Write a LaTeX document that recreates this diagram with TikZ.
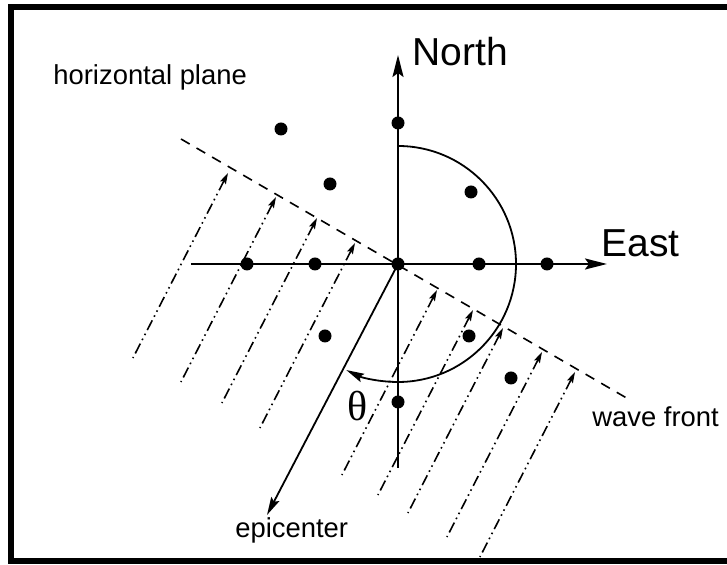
\documentclass[tikz,border=0pt]{standalone}
\usepackage{fontspec}
\setmainfont{Liberation Sans}
\newfontfamily\thetafont{Liberation Serif}
\usetikzlibrary{arrows.meta, positioning}

\begin{document}
\begin{tikzpicture}[
      x=0.5pt, y=0.5pt,
      font=\fontsize{13.7}{16}\selectfont,
      lbl/.style={inner sep=0pt, anchor=base west},
      big/.style={lbl, font=\fontsize{19.5}{22}\selectfont},
      dot/.style={circle, fill, inner sep=0pt, minimum size=6.5pt},
      axis/.style={-{Stealth[length=11pt, width=5.5pt, inset=2pt]}, line width=1.1pt},
      arr/.style={-{Stealth[length=9pt, width=4.5pt, inset=1.5pt]}, line width=0.9pt},
      front/.style={line width=0.8pt, dash pattern=on 5pt off 4pt},
      ray/.style={{Stealth[length=5.5pt, width=3.2pt, inset=1pt]}-, line width=0.8pt,
        dash pattern=on 5.5pt off 2pt on 0.8pt off 2pt on 0.8pt off 2pt},
    ]
    \useasboundingbox (-398,-301) rectangle (329,264);
    \draw[line width=3pt] (329,257) -| (-387,-297) -- (329,-297);
    \node[lbl] (plane) at (-345,179) {horizontal plane};
    \node[big] (north) at (14,198) {North};
    \node[big] (east) at (203,7) {East};
    \node[lbl] (front) at (194,-163) {wave front};
    \node[lbl] (epi) at (-163,-274) {epicenter};
    \node (theta) at (-40,-142) {\thetafont\fontsize{21}{24}\selectfont θ};
    \foreach \x/\y in {-170/91, -122/67, -81/46, -43/21, 39/-26, 75/-46, 105/-64, 144/-88, 177/-108}
      \draw[ray] (\x,\y) -- ++(242.8:208);
    \coordinate (wfA) at (-217,125);
    \coordinate (wfB) at (232,-136);
    \draw[front] (wfA) -- (wfB);
    \coordinate (s) at (0,-204);
    \coordinate (n) at (0,209);
    \coordinate (w) at (-207,0);
    \coordinate (e) at (209,0);
    \draw[axis] (s) -- (n);
    \draw[axis] (w) -- (e);
    \node[dot] (o) at (0,0) {};
    \foreach \p [count=\i] in {(-117,135), (0,141), (-68,80), (73,72), (-151,0), (-83,0),
        (81,0), (149,0), (-73,-72), (71,-72), (113,-114), (0,-138)}
      \node[dot] (d\i) at \p {};
    \coordinate (src) at (-131,-251);
    \draw[arr] (o.center) -- (src);
    \draw[arr] ([shift={(90:118)}]o.center) arc[start angle=90, end angle=-116, radius=118];
  \end{tikzpicture}
\end{document}
